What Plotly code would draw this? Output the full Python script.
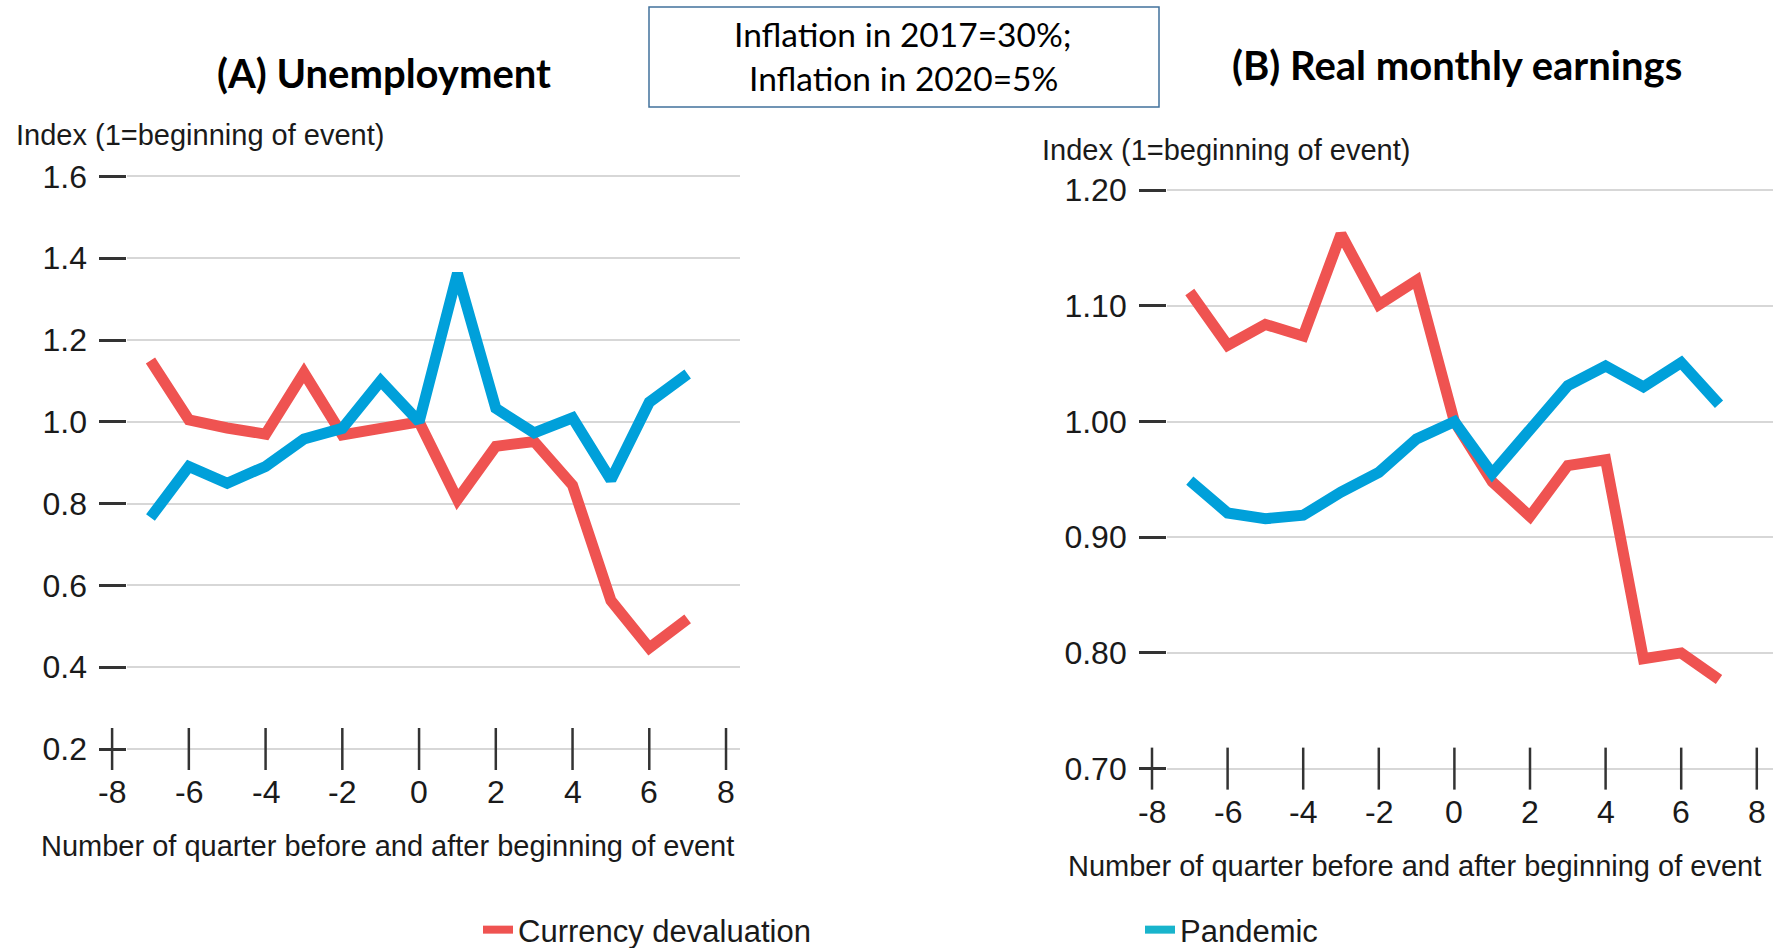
import plotly.graph_objects as go

# ---------------------------------------------------------------- data
quarters = [-7, -6, -5, -4, -3, -2, -1, 0, 1, 2, 3, 4, 5, 6, 7]

# (A) Unemployment index (1 = beginning of event)
unemp_devaluation = [1.15, 1.005, 0.985, 0.97, 1.12, 0.968, 0.984, 1.0,
                     0.81, 0.94, 0.952, 0.845, 0.563, 0.447, 0.518]
unemp_pandemic = [0.766, 0.891, 0.85, 0.891, 0.958, 0.984, 1.1, 1.0,
                  1.363, 1.033, 0.973, 1.01, 0.858, 1.048, 1.117]

# (B) Real monthly earnings index (1 = beginning of event)
earn_devaluation = [1.112, 1.066, 1.084, 1.074, 1.162, 1.101, 1.122, 1.0,
                    0.948, 0.918, 0.962, 0.967, 0.795, 0.800, 0.777]
earn_pandemic = [0.949, 0.921, 0.916, 0.919, 0.939, 0.956, 0.985, 1.0,
                 0.955, 0.993, 1.031, 1.048, 1.030, 1.051, 1.015]

quarter_ticks = [-8, -6, -4, -2, 0, 2, 4, 6, 8]
unemp_ticks = [0.2, 0.4, 0.6, 0.8, 1.0, 1.2, 1.4, 1.6]
earn_ticks = [0.70, 0.80, 0.90, 1.00, 1.10, 1.20]

series_names = ["Currency devaluation", "Pandemic"]
panel_titles = ["(A) Unemployment", "(B) Real monthly earnings"]
y_title = "Index (1=beginning of event)"
x_title = "Number of quarter before and after beginning of event"
note_lines = ["Inflation in 2017=30%;", "Inflation in 2020=5%"]

# ---------------------------------------------------------------- style
W, H = 1776, 948
RED = "#EF5351"
BLUE = "#00A0DA"
TEAL = "#18B4CC"
GRID = "#D7D7D7"
TICK = "#333333"
TEXT = "#1A1A1A"
BOX = "#41719C"
LINE_W = 11
TICK_FONT = dict(family="Liberation Sans, Arial, sans-serif", size=32, color=TEXT)
LABEL_FONT = dict(family="Liberation Sans, Arial, sans-serif", size=29, color=TEXT)
LEGEND_FONT = dict(family="Liberation Sans, Arial, sans-serif", size=31, color=TEXT)
TITLE_FONT = dict(family="Lato, sans-serif", size=40, color="#000000")
NOTE_FONT = dict(family="Lato, sans-serif", size=33.5, color="#000000")


def fx(p):
    return p / W


def fy(p):
    return 1 - p / H


def x_layout(left_px, right_px, x_at_m8_px, px_per_unit):
    """Domain and range for an x axis spanning the given pixel columns."""
    rng = [-8 + (left_px - x_at_m8_px) / px_per_unit,
           -8 + (right_px - x_at_m8_px) / px_per_unit]
    return [fx(left_px), fx(right_px)], rng


# horizontal scale of each panel: pixel of x=-8 and pixels per quarter
A_X0, A_K = 112.1, 38.37
B_X0, B_K = 1152.0, 37.8
# plotting areas (gridline extents) and wider areas that also hold the -8 tick
A_DOM, A_RNG = x_layout(127.4, 739.8, A_X0, A_K)
A_TDOM, A_TRNG = x_layout(92.0, 739.8, A_X0, A_K)
B_DOM, B_RNG = x_layout(1167.1, 1772.7, B_X0, B_K)
B_TDOM, B_TRNG = x_layout(1128.0, 1772.7, B_X0, B_K)

A_YDOM, A_YRNG = [fy(753.1), fy(172.4)], [0.19, 1.61]
B_YDOM, B_YRNG = [fy(774.4), fy(184.4)], [0.695, 1.205]

fig = go.Figure()

panels = [
    ("x", "y", "x3", "y3", unemp_devaluation, unemp_pandemic, unemp_ticks),
    ("x2", "y2", "x4", "y4", earn_devaluation, earn_pandemic, earn_ticks),
]

for xa, ya, xt, yt_ax, dev, pan, yt in panels:
    fig.add_trace(go.Scatter(x=quarters, y=dev, mode="lines", xaxis=xa, yaxis=ya,
                             line=dict(color=RED, width=LINE_W), name=series_names[0],
                             showlegend=False))
    fig.add_trace(go.Scatter(x=quarters, y=pan, mode="lines", xaxis=xa, yaxis=ya,
                             line=dict(color=BLUE, width=LINE_W), name=series_names[1],
                             showlegend=False))
    # vertical tick marks crossing the bottom gridline
    fig.add_trace(go.Scatter(x=quarter_ticks, y=[yt[0]] * len(quarter_ticks),
                             mode="markers", xaxis=xt, yaxis=yt_ax, cliponaxis=False,
                             marker=dict(symbol="line-ns-open", size=30, color=TICK,
                                         line=dict(width=2.5, color=TICK)),
                             hoverinfo="skip", showlegend=False))

# legend entries
fig.add_trace(go.Scatter(x=[None], y=[None], mode="lines", name=series_names[0],
                         line=dict(color=RED, width=8), legend="legend"))
fig.add_trace(go.Scatter(x=[None], y=[None], mode="lines", name=series_names[1],
                         line=dict(color=TEAL, width=8), legend="legend2"))

common_x = dict(showgrid=False, zeroline=False, showline=False, showticklabels=False,
                ticks="", fixedrange=True)
common_y = dict(showgrid=True, gridcolor=GRID, gridwidth=2, zeroline=False, showline=False,
                ticks="outside", ticklen=27, tickwidth=2.5, tickcolor=TICK,
                tickfont=TICK_FONT, ticklabelstandoff=6, fixedrange=True)
hidden = dict(visible=False, fixedrange=True)

fig.update_layout(
    width=W, height=H,
    margin=dict(l=0, r=0, t=0, b=0, autoexpand=False),
    paper_bgcolor="white", plot_bgcolor="rgba(0,0,0,0)",
    xaxis=dict(domain=A_DOM, range=A_RNG, anchor="y", **common_x),
    yaxis=dict(domain=A_YDOM, range=A_YRNG, anchor="x",
               tickvals=unemp_ticks, tickformat=".1f", **common_y),
    xaxis2=dict(domain=B_DOM, range=B_RNG, anchor="y2", **common_x),
    yaxis2=dict(domain=B_YDOM, range=B_YRNG, anchor="x2",
                tickvals=earn_ticks, tickformat=".2f", **common_y),
    # companion axes with the same scales, wide enough to hold the x=-8 tick
    xaxis3=dict(domain=A_TDOM, range=A_TRNG, anchor="y3", **hidden),
    yaxis3=dict(domain=A_YDOM, range=A_YRNG, anchor="x3", **hidden),
    xaxis4=dict(domain=B_TDOM, range=B_TRNG, anchor="y4", **hidden),
    yaxis4=dict(domain=B_YDOM, range=B_YRNG, anchor="x4", **hidden),
    legend=dict(x=fx(478), y=fy(930), xanchor="left", yanchor="middle",
                font=LEGEND_FONT, bgcolor="rgba(0,0,0,0)", borderwidth=0),
    legend2=dict(x=fx(1140), y=fy(930), xanchor="left", yanchor="middle",
                 font=LEGEND_FONT, bgcolor="rgba(0,0,0,0)", borderwidth=0),
    showlegend=True,
)

annotations = []
# x tick labels under each panel
for xt, yt_ax, yt in [("x3", "y3", unemp_ticks), ("x4", "y4", earn_ticks)]:
    for q in quarter_ticks:
        annotations.append(dict(x=q, y=yt[0], xref=xt, yref=yt_ax, text=str(q),
                                showarrow=False, xanchor="center", yanchor="middle",
                                yshift=-43, font=TICK_FONT))

# panel titles
annotations.append(dict(x=fx(383.5), y=fy(73.5), xref="paper", yref="paper",
                        text="<b>%s</b>" % panel_titles[0], showarrow=False,
                        xanchor="center", yanchor="middle", font=TITLE_FONT))
annotations.append(dict(x=fx(1457), y=fy(65.5), xref="paper", yref="paper",
                        text="<b>%s</b>" % panel_titles[1], showarrow=False,
                        xanchor="center", yanchor="middle", font=TITLE_FONT))

# axis titles
for (xl, yl) in [(14, 135.5), (1040, 149.7)]:
    annotations.append(dict(x=fx(xl), y=fy(yl), xref="paper", yref="paper", text=y_title,
                            showarrow=False, xanchor="left", yanchor="middle",
                            font=LABEL_FONT))
for (xc, yc) in [(387, 845.8), (1414.7, 866)]:
    annotations.append(dict(x=fx(xc), y=fy(yc), xref="paper", yref="paper", text=x_title,
                            showarrow=False, xanchor="center", yanchor="middle",
                            font=LABEL_FONT))

# inflation note
for line, yc in zip(note_lines, [34, 77.5]):
    annotations.append(dict(x=fx(903), y=fy(yc), xref="paper", yref="paper", text=line,
                            showarrow=False, xanchor="center", yanchor="middle",
                            font=NOTE_FONT))

fig.update_layout(annotations=annotations)
fig.add_shape(type="rect", xref="paper", yref="paper",
              x0=fx(649), x1=fx(1159), y0=fy(107), y1=fy(7),
              line=dict(color=BOX, width=1.5), fillcolor="rgba(0,0,0,0)", layer="above")

fig.write_html("out.html")
